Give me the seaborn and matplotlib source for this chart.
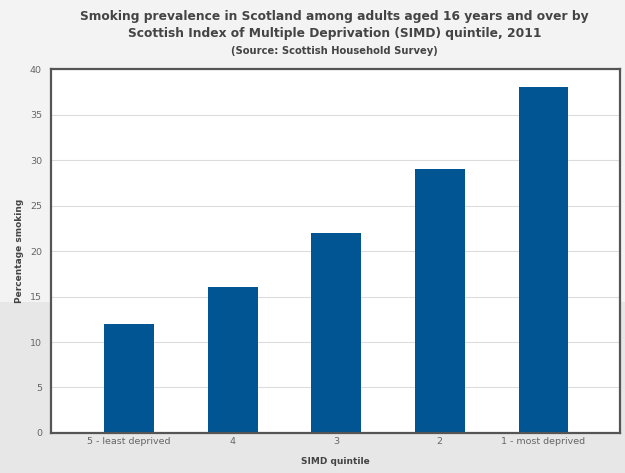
import matplotlib
matplotlib.use("Agg")
import matplotlib.pyplot as plt
import seaborn as sns
import numpy as np
import pandas as pd

categories = ["5 - least deprived", "4", "3", "2", "1 - most deprived"]
values = [12, 16, 22, 29, 38]
yticks = [0, 5, 10, 15, 20, 25, 30, 35, 40]

title = ("Smoking prevalence in Scotland among adults aged 16 years and over by\n"
         "Scottish Index of Multiple Deprivation (SIMD) quintile, 2011")
subtitle = "(Source: Scottish Household Survey)"

sns.set_theme(style="white")
plt.rcParams['font.family'] = ['DejaVu Sans']

fig = plt.figure(figsize=(6.25, 4.73), dpi=100)
fig.patch.set_facecolor("#e8e8e8")

# background band (lighter top)
bg = fig.add_axes([0, 0, 1, 1], zorder=-5)
grad = np.ones((100, 1))
grad[:, 0] = np.concatenate([np.full(36, 0.905), np.full(64, 0.955)])
bg.imshow(grad, aspect="auto", cmap="gray", vmin=0, vmax=1, extent=[0, 1, 0, 1], origin="lower")
bg.set_axis_off()

ax = fig.add_axes([0.0816, 0.0846, 0.9104, 0.7694])
df = pd.DataFrame({"quintile": categories, "pct": values})
sns.barplot(data=df, x="quintile", y="pct", order=categories, color="#005592",
            saturation=1, width=0.48, ax=ax, edgecolor="none")
ax.set_facecolor("white")
ax.set_xlim(-0.754, 4.74)
ax.set_ylim(0, 40)
ax.set_yticks(yticks)
ax.yaxis.grid(True, color="#dcdcdc", linewidth=0.8)
ax.set_axisbelow(True)
for s in ax.spines.values():
    s.set_color("#555555")
    s.set_linewidth(1.6)
ax.tick_params(axis="both", labelsize=6.8, colors="#666666", length=3, width=0.8)
ax.tick_params(axis="x", length=0, pad=3)
ax.set_xlabel("SIMD quintile", fontsize=6.5, fontweight="bold", color="#444444", labelpad=8)
ax.set_ylabel("Percentage smoking", fontsize=6.5, fontweight="bold", color="#444444", labelpad=4)

fig.text(0.535, 0.947, title, ha="center", va="center", fontsize=8.8, fontweight="bold",
         color="#444444", linespacing=1.4)
fig.text(0.535, 0.892, subtitle, ha="center", va="center", fontsize=7.2, fontweight="bold",
         color="#444444")

fig.savefig("out.png", dpi=100, facecolor=fig.get_facecolor())
